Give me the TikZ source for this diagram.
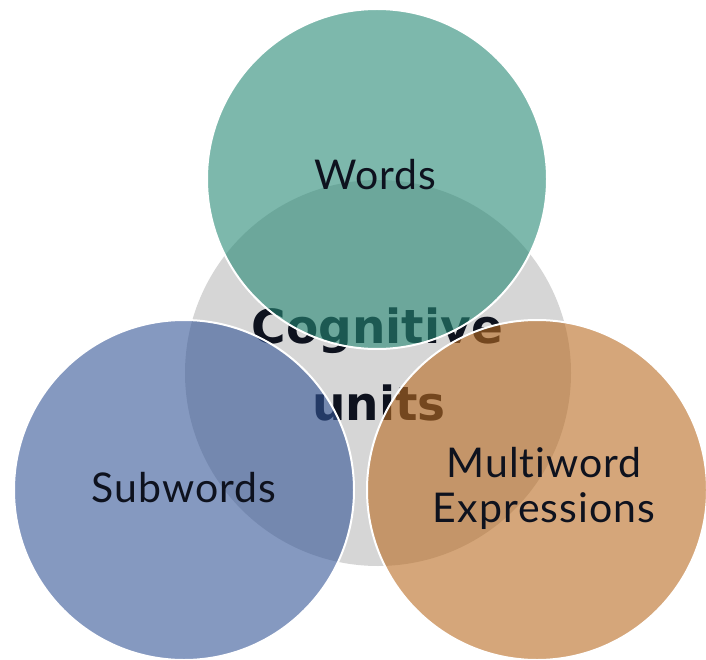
\documentclass[tikz,border=0pt]{standalone}
\usepackage{fontspec}
\setmainfont{Lato}[Ligatures=NoCommon, LetterSpace=2.5]
\newfontfamily\centrefont{DejaVu Sans}
\definecolor{cgrey}{RGB}{214,214,214}
\definecolor{cgreen}{RGB}{38,137,117}
\definecolor{cblue}{RGB}{52,85,150}
\definecolor{corange}{RGB}{185,107,33}
\definecolor{ctext}{RGB}{14,18,30}
\begin{document}
\begin{tikzpicture}[x=1pt,y=-1pt,
  bubble/.style={circle,draw=white,line width=2pt,fill opacity=0.6,inner sep=0pt,minimum size=340pt},
  lbl/.style={font=\fontsize{41}{45}\selectfont,text=ctext,align=center,inner sep=0pt,anchor=base},
  centre/.style={font=\centrefont\bfseries\fontsize{47}{77}\selectfont,text=ctext,align=center,inner sep=0pt}]
\useasboundingbox (0,0) rectangle (706,660);
\node[circle,fill=cgrey,minimum size=386pt,inner sep=0pt] (core) at (378,373) {};
\node[centre,anchor=base] (cu1) at (377.5,343) {Cognitive};
\node[centre,anchor=base] (cu2) at (379,420) {units};
\node[bubble,fill=cgreen] (words) at (377,179) {};
\node[bubble,fill=cblue] (subw) at (184,490) {};
\node[bubble,fill=corange] (mwe) at (537,490) {};
\node[lbl] (wordsl) at (375.5,190) {Words};
\node[lbl] (subwl) at (184,502) {Subwords};
\node[lbl] (mwel1) at (544,477) {Multiword};
\node[lbl] (mwel2) at (544,522) {Expressions};
\end{tikzpicture}
\end{document}
